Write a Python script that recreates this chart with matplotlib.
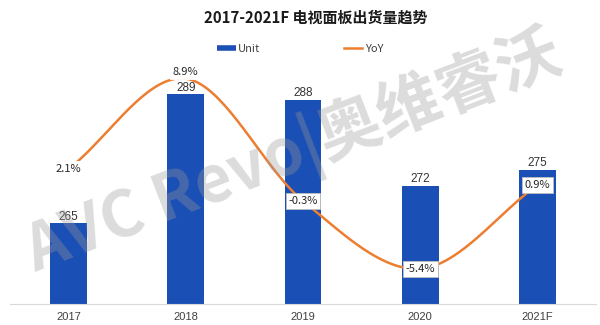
import numpy as np
import matplotlib
matplotlib.use("Agg")
import matplotlib.pyplot as plt
from matplotlib.lines import Line2D

plt.rcParams['font.family'] = ['Noto Sans CJK SC', 'DejaVu Sans']

categories = ['2017', '2018', '2019', '2020', '2021F']
units = [265, 289, 288, 272, 275]
yoy = [2.1, 8.9, -0.3, -5.4, 0.9]
yoy_labels = ['2.1%', '8.9%', '-0.3%', '-5.4%', '0.9%']
title = '2017-2021F 电视面板出货量趋势'

BLUE = '#1A4FB5'
ORANGE = '#ED7D31'

fig = plt.figure(figsize=(6, 3.25), dpi=100)
ax = fig.add_axes([10/600, 21/325, 586/600, 244/325])
ax2 = ax.twinx()

x = np.arange(len(categories))
bars = ax.bar(x, units, width=0.315, color=BLUE, zorder=2)
ax.set_ylim(250, 295.4)
ax.set_xlim(-0.5, len(categories) - 0.5)
for xi, v in zip(x, units):
    ax.annotate(str(v), (xi, v), xytext=(0, 0.5), textcoords='offset points',
                ha='center', va='bottom', fontsize=8.5, color='#333333',
                family=['Liberation Sans', 'DejaVu Sans'])

# smooth (Catmull-Rom) line through the YoY points
def catmull(xs, ys, n=40):
    xs = np.asarray(xs, float); ys = np.asarray(ys, float)
    px = np.concatenate([[2*xs[0]-xs[1]], xs, [2*xs[-1]-xs[-2]]])
    py = np.concatenate([[2*ys[0]-ys[1]], ys, [2*ys[-1]-ys[-2]]])
    ox, oy = [], []
    for i in range(1, len(px)-2):
        t = np.linspace(0, 1, n)
        for arr, out in ((px, ox), (py, oy)):
            p0, p1, p2, p3 = arr[i-1], arr[i], arr[i+1], arr[i+2]
            out.extend(0.5*((2*p1) + (-p0+p2)*t + (2*p0-5*p1+4*p2-p3)*t**2
                            + (-p0+3*p1-3*p2+p3)*t**3))
    return np.array(ox), np.array(oy)

sx, sy = catmull(x, yoy)
ax2.plot(sx, sy, color=ORANGE, lw=1.8, zorder=3, solid_capstyle='round')
ax2.set_ylim(-8.05, 10.3)

offsets = [(0, 0), (0, 5), (0, 0), (0, 0), (0, 0)]
for i, (xi, v, lab) in enumerate(zip(x, yoy, yoy_labels)):
    edge = 'white' if i < 2 else '#bfbfbf'
    ax2.annotate(lab, (xi, v), xytext=offsets[i], textcoords='offset points',
                 ha='center', va='center', fontsize=8, color='#262626',
                 bbox=dict(boxstyle='square,pad=0.25', fc='white', ec=edge, lw=0.6),
                 zorder=5)

for a in (ax, ax2):
    for s in ['top', 'right', 'left']:
        a.spines[s].set_visible(False)
    a.set_yticks([])
ax2.spines['bottom'].set_visible(False)
ax.spines['bottom'].set_color('#d9d9d9')
ax.set_xticks(x)
ax.set_xticklabels(categories, fontsize=8, color='#404040',
                   family=['Liberation Sans', 'DejaVu Sans'])
ax.tick_params(axis='x', length=0, pad=6)

# watermark
fig.text(0.49, 0.53, 'AVC Revo|奥维睿沃', fontsize=46, fontweight='bold',
         color='#9a9a9a', alpha=0.35, rotation=21, ha='center', va='center',
         zorder=10)

fig.text(316/600, 1 - 18/325, title, ha='center', va='center', fontsize=10.8,
         fontweight='bold', color='#1a1a1a')

handles = [Line2D([0], [0], color=BLUE, lw=4, solid_capstyle='butt'),
           Line2D([0], [0], color=ORANGE, lw=1.8)]
fig.legend(handles, ['Unit', 'YoY'], loc='center', bbox_to_anchor=(0.5, 1 - 49/325),
           ncol=2, frameon=False, fontsize=8, handlelength=1.7, handletextpad=0.2,
           columnspacing=7.5, labelcolor='#404040')

fig.savefig('out.png', dpi=100)
